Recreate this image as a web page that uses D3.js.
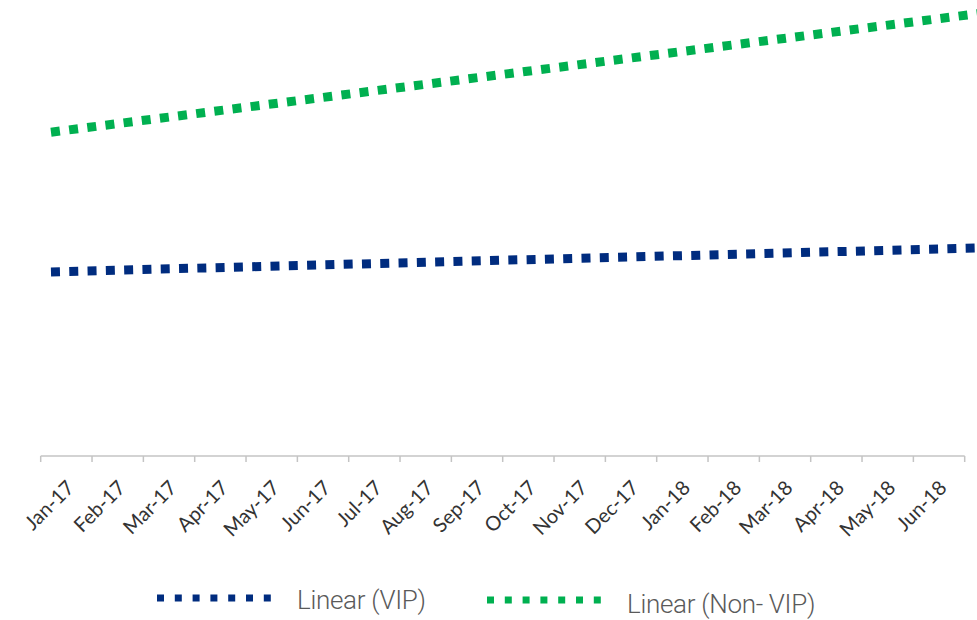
<!DOCTYPE html>
<html>
<head>
<meta charset="utf-8">
<script src="https://cdn.jsdelivr.net/npm/d3@7"></script>
<style>
  html, body { margin: 0; padding: 0; background: #ffffff; }
  svg { display: block; }
</style>
</head>
<body>
<svg id="chart" width="977" height="620"></svg>
<script>
// Month categories along the x axis
const months = ["Jan-17", "Feb-17", "Mar-17", "Apr-17", "May-17", "Jun-17",
                "Jul-17", "Aug-17", "Sep-17", "Oct-17", "Nov-17", "Dec-17",
                "Jan-18", "Feb-18", "Mar-18", "Apr-18", "May-18", "Jun-18"];

// Linear trend values at the first and last month
const vipTrend    = [20.5, 23.0];
const nonVipTrend = [36.2, 48.6];

// Trendline extension, in periods, before the first and after the last month
const forecastBackward = [0.3, 0.3];
const forecastForward  = [0.9, 0.9];

const seriesNames  = ["Linear (VIP)", "Linear (Non- VIP)"];
const seriesColors = ["#002c7f", "#00b050"];

const width = 977, height = 620;
const plot = { left: 40.7, right: 964.7, bottom: 456, top: 6 };

const svg = d3.select("#chart");

const x = d3.scaleBand().domain(months).range([plot.left, plot.right]).paddingInner(0).paddingOuter(0);
const y = d3.scaleLinear().domain([0, 50]).range([plot.bottom, plot.top]);

// position of a fractional period index (0 = first month centre)
const xPeriod = p => x(months[0]) + x.bandwidth() / 2 + p * x.bandwidth();

// Category axis: line, tick marks between categories, rotated labels
const axisG = svg.append("g").attr("class", "x-axis");
axisG.append("line")
  .attr("x1", plot.left).attr("x2", plot.right)
  .attr("y1", plot.bottom).attr("y2", plot.bottom)
  .attr("stroke", "#c4c4c4").attr("stroke-width", 1.5);

const tickPos = months.map(m => x(m)).concat([x(months[months.length - 1]) + x.bandwidth()]);
axisG.selectAll("line.tick").data(tickPos).join("line")
  .attr("class", "tick")
  .attr("x1", d => d).attr("x2", d => d)
  .attr("y1", plot.bottom).attr("y2", plot.bottom + 6)
  .attr("stroke", "#c4c4c4").attr("stroke-width", 1.5);

axisG.selectAll("text").data(months).join("text")
  .attr("transform", d => `translate(${x(d) + x.bandwidth() / 2 + 9},${plot.bottom + 33}) rotate(-45)`)
  .attr("text-anchor", "end")
  .attr("font-family", "Lato, 'Open Sans', sans-serif")
  .attr("font-size", 20)
  .attr("fill", "#333333")
  .text(d => d);

// Trendlines
const trends = [vipTrend, nonVipTrend];
const line = d3.line().x(d => xPeriod(d.p)).y(d => y(d.v));
trends.forEach((t, i) => {
  const n = months.length - 1;
  const slope = (t[1] - t[0]) / n;
  const p0 = -forecastBackward[i], p1 = n + forecastForward[i];
  const pts = [{ p: p0, v: t[0] + slope * p0 }, { p: p1, v: t[0] + slope * p1 }];
  svg.append("path")
    .datum(pts)
    .attr("d", line)
    .attr("fill", "none")
    .attr("stroke", seriesColors[i])
    .attr("stroke-width", 9)
    .attr("stroke-dasharray", "9 9.3");
});

// Legend
const legendItems = [
  { x: 157, y: 598, tx: 297, ty: 609 },
  { x: 487, y: 600, tx: 627, ty: 613 }
];
const legend = svg.append("g").attr("class", "legend");
legendItems.forEach((it, i) => {
  legend.append("line")
    .attr("x1", it.x).attr("x2", it.x + 116)
    .attr("y1", it.y).attr("y2", it.y)
    .attr("stroke", seriesColors[i])
    .attr("stroke-width", 7)
    .attr("stroke-dasharray", "7 10.8");
  legend.append("text")
    .attr("x", it.tx).attr("y", it.ty)
    .attr("font-family", "Roboto, sans-serif")
    .attr("font-weight", 300)
    .attr("font-size", 26)
    .attr("letter-spacing", -0.3)
    .attr("fill", "#5a5a5a")
    .text(seriesNames[i]);
});
</script>
</body>
</html>
